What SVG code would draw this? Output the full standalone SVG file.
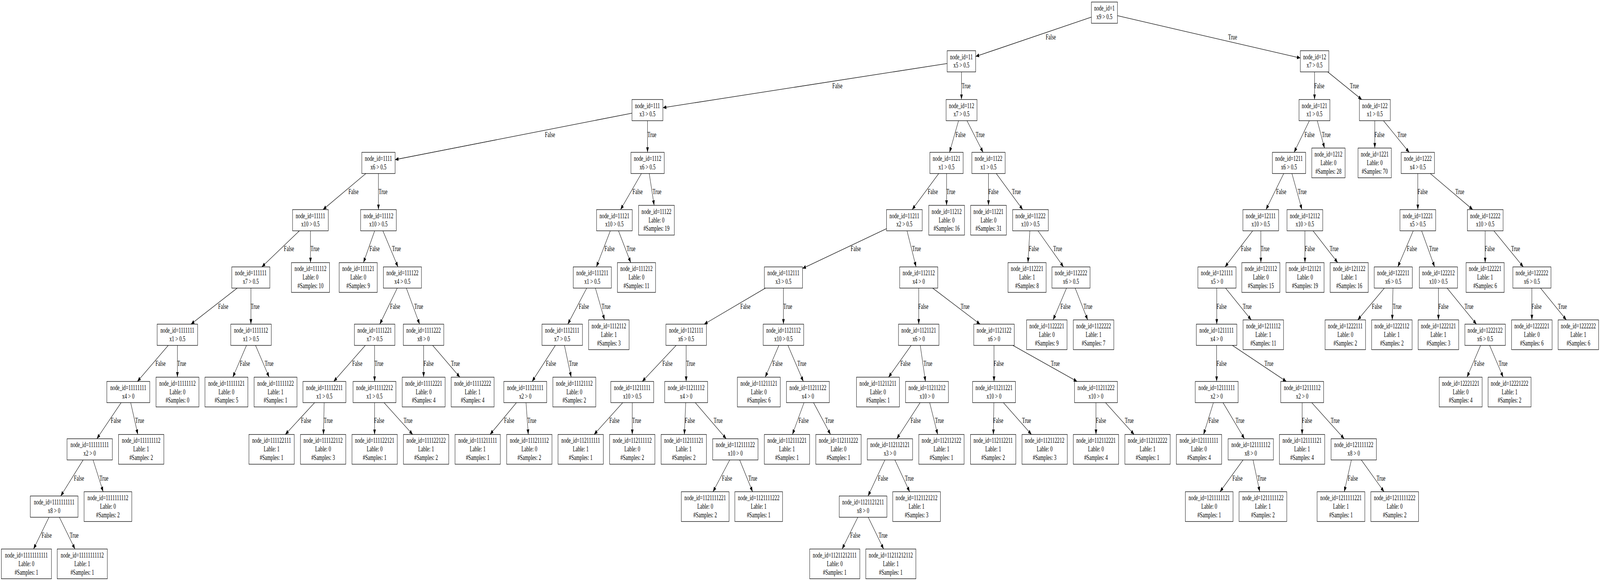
<svg xmlns="http://www.w3.org/2000/svg" width="6086" height="1488" viewBox="0 0 6086 1488" preserveAspectRatio="none" style="width:100vw;height:100vh">
<style>
text{font-family:"Liberation Serif","Times New Roman",serif;font-size:18.3px;text-anchor:middle;fill:#000}
.n rect{fill:#fff;stroke:#000;stroke-width:1.3}
#edges line{stroke:#000;stroke-width:1.3;marker-end:url(#ah)}
</style>
<defs>
<marker id="ah" markerUnits="userSpaceOnUse" viewBox="0 0 13 10" refX="13" refY="5" markerWidth="13" markerHeight="10" orient="auto">
<path d="M0,0 L13,5 L0,10 Z" fill="#000"/>
</marker>
</defs>
<rect width="6086" height="1488" fill="#fff"/>
<g id="edges">
<line x1="4151.2" y1="43.9" x2="3711.2" y2="144.6"/><text x="3996.8" y="100.7">False</text>
<line x1="4250.4" y1="40.2" x2="4946.3" y2="148.6"/><text x="4688.5" y="100.7">True</text>
<line x1="3602.85" y1="162.7" x2="2521.5" y2="275.85"/><text x="3185.4" y="226">False</text>
<line x1="3657.2" y1="184.15" x2="3657.2" y2="254.85"/><text x="3675" y="226">True</text>
<line x1="5000.2" y1="184.15" x2="5000.2" y2="254.85"/><text x="5018.4" y="226">False</text>
<line x1="5050.2" y1="184.15" x2="5179.8" y2="254.85"/><text x="5151.7" y="226">True</text>
<line x1="2403.95" y1="289.8" x2="1502.8" y2="408.9"/><text x="2092" y="350.8">False</text>
<line x1="2463" y1="309.15" x2="2463" y2="390.15"/><text x="2479.7" y="350.8">True</text>
<line x1="3646" y1="309.15" x2="3611.8" y2="390.15"/><text x="3653.6" y="350.8">False</text>
<line x1="3678.1" y1="309.15" x2="3739.4" y2="390.15"/><text x="3728.3" y="350.8">True</text>
<line x1="4980.5" y1="309.15" x2="4922.4" y2="390.15"/><text x="4981.4" y="350.8">False</text>
<line x1="5010.6" y1="309.15" x2="5038" y2="379.2"/><text x="5044.7" y="350.8">True</text>
<line x1="5229.3" y1="309.15" x2="5229.3" y2="379.2"/><text x="5247.1" y="350.8">False</text>
<line x1="5262.4" y1="309.15" x2="5360.2" y2="390.15"/><text x="5332.7" y="350.8">True</text>
<line x1="1391.6" y1="444.45" x2="1228.6" y2="536.85"/><text x="1344.5" y="496.7">False</text>
<line x1="1439.5" y1="444.45" x2="1439.5" y2="536.85"/><text x="1457" y="496.7">True</text>
<line x1="2439.8" y1="444.45" x2="2360.4" y2="536.85"/><text x="2425.4" y="496.7">False</text>
<line x1="2469.5" y1="444.45" x2="2488.2" y2="525.9"/><text x="2499" y="496.7">True</text>
<line x1="3570.6" y1="444.45" x2="3469.7" y2="536.85"/><text x="3548" y="496.7">False</text>
<line x1="3600.5" y1="444.45" x2="3600.5" y2="525.9"/><text x="3616.8" y="496.7">True</text>
<line x1="3760" y1="444.45" x2="3760" y2="525.9"/><text x="3778.7" y="496.7">False</text>
<line x1="3789.6" y1="444.45" x2="3890.1" y2="536.85"/><text x="3866" y="496.7">True</text>
<line x1="4883.1" y1="444.45" x2="4815.5" y2="536.85"/><text x="4873.4" y="496.7">False</text>
<line x1="4914.2" y1="444.45" x2="4952.2" y2="536.85"/><text x="4953.2" y="496.7">True</text>
<line x1="5393" y1="444.45" x2="5393" y2="536.85"/><text x="5411.6" y="496.7">False</text>
<line x1="5440.5" y1="444.45" x2="5602" y2="536.85"/><text x="5552.7" y="496.7">True</text>
<line x1="1138.7" y1="591.15" x2="996" y2="683.55"/><text x="1099.3" y="643.5">False</text>
<line x1="1181" y1="591.15" x2="1181" y2="672.6"/><text x="1198.1" y="643.5">True</text>
<line x1="1425.2" y1="591.15" x2="1382.5" y2="672.6"/><text x="1425" y="643.5">False</text>
<line x1="1456.4" y1="591.15" x2="1513.8" y2="683.55"/><text x="1508" y="643.5">True</text>
<line x1="2321.5" y1="591.15" x2="2268.5" y2="683.55"/><text x="2318.8" y="643.5">False</text>
<line x1="2352.5" y1="591.15" x2="2399.2" y2="672.6"/><text x="2400.2" y="643.5">True</text>
<line x1="3372.1" y1="585.65" x2="3052.45" y2="687.6"/><text x="3255.2" y="643.5">False</text>
<line x1="3450.1" y1="591.15" x2="3484.5" y2="683.55"/><text x="3485.9" y="643.5">True</text>
<line x1="3917.3" y1="591.15" x2="3910.1" y2="672.6"/><text x="3932.8" y="643.5">False</text>
<line x1="3948.2" y1="591.15" x2="4045.3" y2="683.55"/><text x="4023" y="643.5">True</text>
<line x1="4764.8" y1="591.15" x2="4659.8" y2="683.55"/><text x="4740" y="643.5">False</text>
<line x1="4796" y1="591.15" x2="4796" y2="672.6"/><text x="4812" y="643.5">True</text>
<line x1="4963.7" y1="591.15" x2="4963.7" y2="672.6"/><text x="4982.4" y="643.5">False</text>
<line x1="4994.6" y1="591.15" x2="5088.2" y2="672.6"/><text x="5074.8" y="643.5">True</text>
<line x1="5375.7" y1="591.15" x2="5316.9" y2="683.55"/><text x="5370.7" y="643.5">False</text>
<line x1="5407.5" y1="591.15" x2="5456.9" y2="683.55"/><text x="5453.4" y="643.5">True</text>
<line x1="5649.2" y1="591.15" x2="5649.2" y2="672.6"/><text x="5666.6" y="643.5">False</text>
<line x1="5682.3" y1="591.15" x2="5794.2" y2="683.55"/><text x="5764.8" y="643.5">True</text>
<line x1="902.3" y1="737.85" x2="726.4" y2="830.25"/><text x="849.2" y="790.8">False</text>
<line x1="954.4" y1="737.85" x2="954.4" y2="830.25"/><text x="970.3" y="790.8">True</text>
<line x1="1511.1" y1="737.85" x2="1444.6" y2="830.25"/><text x="1503" y="790.8">False</text>
<line x1="1545.6" y1="737.85" x2="1596.1" y2="830.25"/><text x="1592.7" y="790.8">True</text>
<line x1="2231.8" y1="737.85" x2="2159.7" y2="830.25"/><text x="2220.9" y="790.8">False</text>
<line x1="2264.7" y1="737.85" x2="2299.6" y2="819.3"/><text x="2305.2" y="790.8">True</text>
<line x1="2911.5" y1="737.85" x2="2678.5" y2="830.25"/><text x="2835.4" y="790.8">False</text>
<line x1="2980" y1="737.85" x2="2980" y2="830.25"/><text x="2996.4" y="790.8">True</text>
<line x1="3494.6" y1="737.85" x2="3494.6" y2="830.25"/><text x="3512" y="790.8">False</text>
<line x1="3547.6" y1="737.85" x2="3728" y2="830.25"/><text x="3671" y="790.8">True</text>
<line x1="4056.8" y1="737.85" x2="4005.7" y2="819.3"/><text x="4053" y="790.8">False</text>
<line x1="4089.7" y1="737.85" x2="4137.3" y2="819.3"/><text x="4138.3" y="790.8">True</text>
<line x1="4628.2" y1="737.85" x2="4628.2" y2="830.25"/><text x="4646.6" y="790.8">False</text>
<line x1="4661.6" y1="737.85" x2="4759.4" y2="819.3"/><text x="4744" y="790.8">True</text>
<line x1="5265.8" y1="737.85" x2="5164.6" y2="819.3"/><text x="5237.4" y="790.8">False</text>
<line x1="5298.6" y1="737.85" x2="5295.7" y2="819.3"/><text x="5314.3" y="790.8">True</text>
<line x1="5471.4" y1="737.85" x2="5471.4" y2="819.3"/><text x="5490.4" y="790.8">False</text>
<line x1="5504.3" y1="737.85" x2="5616.1" y2="830.25"/><text x="5587.7" y="790.8">True</text>
<line x1="5826.9" y1="737.85" x2="5826.9" y2="819.3"/><text x="5844.7" y="790.8">False</text>
<line x1="5859.7" y1="737.85" x2="5957.9" y2="819.3"/><text x="5943" y="790.8">True</text>
<line x1="640.1" y1="884.55" x2="522.6" y2="976.95"/><text x="610.7" y="936.7">False</text>
<line x1="674.85" y1="884.55" x2="674.85" y2="966"/><text x="691.2" y="936.7">True</text>
<line x1="937.5" y1="884.55" x2="885.6" y2="966"/><text x="931.6" y="936.7">False</text>
<line x1="972" y1="884.55" x2="1023.8" y2="966"/><text x="1023.6" y="936.7">True</text>
<line x1="1389.7" y1="884.55" x2="1269.3" y2="976.95"/><text x="1359" y="936.7">False</text>
<line x1="1424.75" y1="884.55" x2="1424.75" y2="976.95"/><text x="1441.5" y="936.7">True</text>
<line x1="1611.3" y1="884.55" x2="1611.3" y2="966"/><text x="1630.5" y="936.7">False</text>
<line x1="1645.6" y1="884.55" x2="1749.3" y2="966"/><text x="1732.3" y="936.7">True</text>
<line x1="2112.5" y1="884.55" x2="2024" y2="976.95"/><text x="2095.8" y="936.7">False</text>
<line x1="2147" y1="884.55" x2="2172.6" y2="966"/><text x="2181.1" y="936.7">True</text>
<line x1="2572.1" y1="884.55" x2="2442.9" y2="976.95"/><text x="2538.8" y="936.7">False</text>
<line x1="2610" y1="884.55" x2="2610" y2="976.95"/><text x="2627" y="936.7">True</text>
<line x1="2962.7" y1="884.55" x2="2910.7" y2="966"/><text x="2957.6" y="936.7">False</text>
<line x1="2997.2" y1="884.55" x2="3055.8" y2="976.95"/><text x="3050" y="936.7">True</text>
<line x1="3465.9" y1="884.55" x2="3379.8" y2="966"/><text x="3444.2" y="936.7">False</text>
<line x1="3500.4" y1="884.55" x2="3520.2" y2="976.95"/><text x="3529.5" y="936.7">True</text>
<line x1="3781" y1="884.55" x2="3781" y2="976.95"/><text x="3799" y="936.7">False</text>
<line x1="3852.8" y1="884.55" x2="4097" y2="976.95"/><text x="4014.2" y="936.7">True</text>
<line x1="4627.75" y1="884.55" x2="4627.75" y2="976.95"/><text x="4646.6" y="936.7">False</text>
<line x1="4687.8" y1="884.55" x2="4892.9" y2="976.95"/><text x="4826.7" y="936.7">True</text>
<line x1="5631.8" y1="884.55" x2="5580.2" y2="966"/><text x="5626.7" y="936.7">False</text>
<line x1="5666.2" y1="884.55" x2="5717.8" y2="966"/><text x="5717.2" y="936.7">True</text>
<line x1="460.8" y1="1031.25" x2="368.4" y2="1123.65"/><text x="441" y="1083.5">False</text>
<line x1="497.1" y1="1031.25" x2="524.3" y2="1112.7"/><text x="531.2" y="1083.5">True</text>
<line x1="1196.8" y1="1031.25" x2="1085.2" y2="1112.7"/><text x="1164.2" y="1083.5">False</text>
<line x1="1233.1" y1="1031.25" x2="1230.3" y2="1112.7"/><text x="1248.5" y="1083.5">True</text>
<line x1="1424.75" y1="1031.25" x2="1424.75" y2="1112.7"/><text x="1442.4" y="1083.5">False</text>
<line x1="1460.8" y1="1031.25" x2="1569.8" y2="1112.7"/><text x="1552" y="1083.5">True</text>
<line x1="1964.5" y1="1031.25" x2="1864" y2="1112.7"/><text x="1936.8" y="1083.5">False</text>
<line x1="2000.9" y1="1031.25" x2="2009.4" y2="1112.7"/><text x="2023.1" y="1083.5">True</text>
<line x1="2368.7" y1="1031.25" x2="2259.8" y2="1112.7"/><text x="2337.2" y="1083.5">False</text>
<line x1="2405" y1="1031.25" x2="2405" y2="1112.7"/><text x="2421.5" y="1083.5">True</text>
<line x1="2608.3" y1="1031.25" x2="2603.2" y2="1112.7"/><text x="2624.1" y="1083.5">False</text>
<line x1="2644.6" y1="1031.25" x2="2762.4" y2="1123.65"/><text x="2731.7" y="1083.5">True</text>
<line x1="3058.3" y1="1031.25" x2="3014.1" y2="1112.7"/><text x="3056.7" y="1083.5">False</text>
<line x1="3094.5" y1="1031.25" x2="3159.1" y2="1112.7"/><text x="3155" y="1083.5">True</text>
<line x1="3499.9" y1="1031.25" x2="3411.1" y2="1123.65"/><text x="3483" y="1083.5">False</text>
<line x1="3536.2" y1="1031.25" x2="3566.7" y2="1112.7"/><text x="3573.2" y="1083.5">True</text>
<line x1="3780.4" y1="1031.25" x2="3778.6" y2="1112.7"/><text x="3797" y="1083.5">False</text>
<line x1="3816.6" y1="1031.25" x2="3923.5" y2="1112.7"/><text x="3904.7" y="1083.5">True</text>
<line x1="4168.8" y1="1031.25" x2="4168.8" y2="1112.7"/><text x="4187.7" y="1083.5">False</text>
<line x1="4205.1" y1="1031.25" x2="4314" y2="1112.7"/><text x="4295.4" y="1083.5">True</text>
<line x1="4615.5" y1="1031.25" x2="4578.1" y2="1112.7"/><text x="4616.4" y="1083.5">False</text>
<line x1="4652" y1="1031.25" x2="4733.6" y2="1123.65"/><text x="4716.7" y="1083.5">True</text>
<line x1="4953" y1="1031.25" x2="4953" y2="1112.7"/><text x="4971.7" y="1083.5">False</text>
<line x1="4989.5" y1="1031.25" x2="5113" y2="1123.65"/><text x="5078.7" y="1083.5">True</text>
<line x1="316.2" y1="1177.95" x2="231" y2="1270.35"/><text x="300.5" y="1230.9">False</text>
<line x1="354" y1="1177.95" x2="392.5" y2="1259.4"/><text x="395.5" y="1230.9">True</text>
<line x1="2775.8" y1="1177.95" x2="2712.1" y2="1259.4"/><text x="2765.6" y="1230.9">False</text>
<line x1="2813.4" y1="1177.95" x2="2862.7" y2="1259.4"/><text x="2863.5" y="1230.9">True</text>
<line x1="3366.1" y1="1177.95" x2="3301.8" y2="1270.35"/><text x="3358.9" y="1230.9">False</text>
<line x1="3403.8" y1="1177.95" x2="3460.1" y2="1259.4"/><text x="3458.8" y="1230.9">True</text>
<line x1="4728.3" y1="1177.95" x2="4640.6" y2="1259.4"/><text x="4707" y="1230.9">False</text>
<line x1="4766.2" y1="1177.95" x2="4791.8" y2="1259.4"/><text x="4799.4" y="1230.9">True</text>
<line x1="5140.3" y1="1177.95" x2="5113.3" y2="1259.4"/><text x="5145.9" y="1230.9">False</text>
<line x1="5178.1" y1="1177.95" x2="5264.6" y2="1259.4"/><text x="5253" y="1230.9">True</text>
<line x1="186.3" y1="1324.65" x2="127.6" y2="1406.1"/><text x="177.4" y="1376.8">False</text>
<line x1="225.8" y1="1324.65" x2="285.2" y2="1406.1"/><text x="282.1" y="1376.8">True</text>
<line x1="3263" y1="1324.65" x2="3203.2" y2="1406.1"/><text x="3253.3" y="1376.8">False</text>
<line x1="3302.4" y1="1324.65" x2="3361.1" y2="1406.1"/><text x="3358.9" y="1376.8">True</text>
</g>
<g id="nodes">
<g id="n_1" class="n" transform="translate(4201,32.4)"><rect x="-49.6" y="-27.15" width="99.2" height="54.3"/><text y="-5.45">node_id=1</text><text y="16.45">x9 &gt; 0.5</text></g>
<g id="n_11" class="n" transform="translate(3657,157)"><rect x="-54.2" y="-27.15" width="108.4" height="54.3"/><text y="-5.45">node_id=11</text><text y="16.45">x5 &gt; 0.5</text></g>
<g id="n_12" class="n" transform="translate(5000.4,157)"><rect x="-54.2" y="-27.15" width="108.4" height="54.3"/><text y="-5.45">node_id=12</text><text y="16.45">x7 &gt; 0.5</text></g>
<g id="n_111" class="n" transform="translate(2462.7,282)"><rect x="-58.75" y="-27.15" width="117.5" height="54.3"/><text y="-5.45">node_id=111</text><text y="16.45">x3 &gt; 0.5</text></g>
<g id="n_112" class="n" transform="translate(3657.5,282)"><rect x="-58.75" y="-27.15" width="117.5" height="54.3"/><text y="-5.45">node_id=112</text><text y="16.45">x7 &gt; 0.5</text></g>
<g id="n_121" class="n" transform="translate(4999.9,282)"><rect x="-58.75" y="-27.15" width="117.5" height="54.3"/><text y="-5.45">node_id=121</text><text y="16.45">x1 &gt; 0.5</text></g>
<g id="n_122" class="n" transform="translate(5229.6,282)"><rect x="-58.75" y="-27.15" width="117.5" height="54.3"/><text y="-5.45">node_id=122</text><text y="16.45">x1 &gt; 0.5</text></g>
<g id="n_1111" class="n" transform="translate(1439.5,417.3)"><rect x="-63.3" y="-27.15" width="126.6" height="54.3"/><text y="-5.45">node_id=1111</text><text y="16.45">x6 &gt; 0.5</text></g>
<g id="n_1112" class="n" transform="translate(2463.2,417.3)"><rect x="-63.3" y="-27.15" width="126.6" height="54.3"/><text y="-5.45">node_id=1112</text><text y="16.45">x6 &gt; 0.5</text></g>
<g id="n_1121" class="n" transform="translate(3600.3,417.3)"><rect x="-63.3" y="-27.15" width="126.6" height="54.3"/><text y="-5.45">node_id=1121</text><text y="16.45">x1 &gt; 0.5</text></g>
<g id="n_1122" class="n" transform="translate(3760,417.3)"><rect x="-63.3" y="-27.15" width="126.6" height="54.3"/><text y="-5.45">node_id=1122</text><text y="16.45">x1 &gt; 0.5</text></g>
<g id="n_1211" class="n" transform="translate(4903,417.3)"><rect x="-63.3" y="-27.15" width="126.6" height="54.3"/><text y="-5.45">node_id=1211</text><text y="16.45">x6 &gt; 0.5</text></g>
<g id="n_1212" class="n" transform="translate(5053,417.3)"><rect x="-63.3" y="-38.1" width="126.6" height="76.2"/><text y="-16.4">node_id=1212</text><text y="5.5">Lable: 0</text><text y="27.4">#Samples: 28</text></g>
<g id="n_1221" class="n" transform="translate(5229,417.3)"><rect x="-63.3" y="-38.1" width="126.6" height="76.2"/><text y="-16.4">node_id=1221</text><text y="5.5">Lable: 0</text><text y="27.4">#Samples: 70</text></g>
<g id="n_1222" class="n" transform="translate(5393,417.3)"><rect x="-63.3" y="-27.15" width="126.6" height="54.3"/><text y="-5.45">node_id=1222</text><text y="16.45">x4 &gt; 0.5</text></g>
<g id="n_11111" class="n" transform="translate(1180.7,564)"><rect x="-67.9" y="-27.15" width="135.8" height="54.3"/><text y="-5.45">node_id=11111</text><text y="16.45">x10 &gt; 0.5</text></g>
<g id="n_11112" class="n" transform="translate(1439.5,564)"><rect x="-67.9" y="-27.15" width="135.8" height="54.3"/><text y="-5.45">node_id=11112</text><text y="16.45">x10 &gt; 0.5</text></g>
<g id="n_11121" class="n" transform="translate(2337,564)"><rect x="-67.9" y="-27.15" width="135.8" height="54.3"/><text y="-5.45">node_id=11121</text><text y="16.45">x10 &gt; 0.5</text></g>
<g id="n_11122" class="n" transform="translate(2497,564)"><rect x="-67.9" y="-38.1" width="135.8" height="76.2"/><text y="-16.4">node_id=11122</text><text y="5.5">Lable: 0</text><text y="27.4">#Samples: 19</text></g>
<g id="n_11211" class="n" transform="translate(3440,564)"><rect x="-67.9" y="-27.15" width="135.8" height="54.3"/><text y="-5.45">node_id=11211</text><text y="16.45">x2 &gt; 0.5</text></g>
<g id="n_11212" class="n" transform="translate(3600.8,564)"><rect x="-67.9" y="-38.1" width="135.8" height="76.2"/><text y="-16.4">node_id=11212</text><text y="5.5">Lable: 0</text><text y="27.4">#Samples: 16</text></g>
<g id="n_11221" class="n" transform="translate(3760,564)"><rect x="-67.9" y="-38.1" width="135.8" height="76.2"/><text y="-16.4">node_id=11221</text><text y="5.5">Lable: 0</text><text y="27.4">#Samples: 31</text></g>
<g id="n_11222" class="n" transform="translate(3919.7,564)"><rect x="-67.9" y="-27.15" width="135.8" height="54.3"/><text y="-5.45">node_id=11222</text><text y="16.45">x10 &gt; 0.5</text></g>
<g id="n_12111" class="n" transform="translate(4795.6,564)"><rect x="-67.9" y="-27.15" width="135.8" height="54.3"/><text y="-5.45">node_id=12111</text><text y="16.45">x10 &gt; 0.5</text></g>
<g id="n_12112" class="n" transform="translate(4963.4,564)"><rect x="-67.9" y="-27.15" width="135.8" height="54.3"/><text y="-5.45">node_id=12112</text><text y="16.45">x10 &gt; 0.5</text></g>
<g id="n_12221" class="n" transform="translate(5393,564)"><rect x="-67.9" y="-27.15" width="135.8" height="54.3"/><text y="-5.45">node_id=12221</text><text y="16.45">x5 &gt; 0.5</text></g>
<g id="n_12222" class="n" transform="translate(5649.5,564)"><rect x="-67.9" y="-27.15" width="135.8" height="54.3"/><text y="-5.45">node_id=12222</text><text y="16.45">x10 &gt; 0.5</text></g>
<g id="n_111111" class="n" transform="translate(954,710.7)"><rect x="-72.45" y="-27.15" width="144.9" height="54.3"/><text y="-5.45">node_id=111111</text><text y="16.45">x7 &gt; 0.5</text></g>
<g id="n_111112" class="n" transform="translate(1181,710.7)"><rect x="-72.45" y="-38.1" width="144.9" height="76.2"/><text y="-16.4">node_id=111112</text><text y="5.5">Lable: 0</text><text y="27.4">#Samples: 10</text></g>
<g id="n_111121" class="n" transform="translate(1362.5,710.7)"><rect x="-72.45" y="-38.1" width="144.9" height="76.2"/><text y="-16.4">node_id=111121</text><text y="5.5">Lable: 0</text><text y="27.4">#Samples: 9</text></g>
<g id="n_111122" class="n" transform="translate(1530.7,710.7)"><rect x="-72.45" y="-27.15" width="144.9" height="54.3"/><text y="-5.45">node_id=111122</text><text y="16.45">x4 &gt; 0.5</text></g>
<g id="n_111211" class="n" transform="translate(2253,710.7)"><rect x="-72.45" y="-27.15" width="144.9" height="54.3"/><text y="-5.45">node_id=111211</text><text y="16.45">x1 &gt; 0.5</text></g>
<g id="n_111212" class="n" transform="translate(2421,710.7)"><rect x="-72.45" y="-38.1" width="144.9" height="76.2"/><text y="-16.4">node_id=111212</text><text y="5.5">Lable: 0</text><text y="27.4">#Samples: 11</text></g>
<g id="n_112111" class="n" transform="translate(2980,710.7)"><rect x="-72.45" y="-27.15" width="144.9" height="54.3"/><text y="-5.45">node_id=112111</text><text y="16.45">x3 &gt; 0.5</text></g>
<g id="n_112112" class="n" transform="translate(3494.6,710.7)"><rect x="-72.45" y="-27.15" width="144.9" height="54.3"/><text y="-5.45">node_id=112112</text><text y="16.45">x4 &gt; 0</text></g>
<g id="n_112221" class="n" transform="translate(3906.7,710.7)"><rect x="-72.45" y="-38.1" width="144.9" height="76.2"/><text y="-16.4">node_id=112221</text><text y="5.5">Lable: 1</text><text y="27.4">#Samples: 8</text></g>
<g id="n_112222" class="n" transform="translate(4073.8,710.7)"><rect x="-72.45" y="-27.15" width="144.9" height="54.3"/><text y="-5.45">node_id=112222</text><text y="16.45">x6 &gt; 0.5</text></g>
<g id="n_121111" class="n" transform="translate(4629,710.7)"><rect x="-72.45" y="-27.15" width="144.9" height="54.3"/><text y="-5.45">node_id=121111</text><text y="16.45">x5 &gt; 0</text></g>
<g id="n_121112" class="n" transform="translate(4796,710.7)"><rect x="-72.45" y="-38.1" width="144.9" height="76.2"/><text y="-16.4">node_id=121112</text><text y="5.5">Lable: 0</text><text y="27.4">#Samples: 15</text></g>
<g id="n_121121" class="n" transform="translate(4964,710.7)"><rect x="-72.45" y="-38.1" width="144.9" height="76.2"/><text y="-16.4">node_id=121121</text><text y="5.5">Lable: 0</text><text y="27.4">#Samples: 19</text></g>
<g id="n_121122" class="n" transform="translate(5132,710.7)"><rect x="-72.45" y="-38.1" width="144.9" height="76.2"/><text y="-16.4">node_id=121122</text><text y="5.5">Lable: 1</text><text y="27.4">#Samples: 16</text></g>
<g id="n_122211" class="n" transform="translate(5299.6,710.7)"><rect x="-72.45" y="-27.15" width="144.9" height="54.3"/><text y="-5.45">node_id=122211</text><text y="16.45">x6 &gt; 0.5</text></g>
<g id="n_122212" class="n" transform="translate(5471.4,710.7)"><rect x="-72.45" y="-27.15" width="144.9" height="54.3"/><text y="-5.45">node_id=122212</text><text y="16.45">x10 &gt; 0.5</text></g>
<g id="n_122221" class="n" transform="translate(5649,710.7)"><rect x="-72.45" y="-38.1" width="144.9" height="76.2"/><text y="-16.4">node_id=122221</text><text y="5.5">Lable: 1</text><text y="27.4">#Samples: 6</text></g>
<g id="n_122222" class="n" transform="translate(5827,710.7)"><rect x="-72.45" y="-27.15" width="144.9" height="54.3"/><text y="-5.45">node_id=122222</text><text y="16.45">x6 &gt; 0.5</text></g>
<g id="n_1111111" class="n" transform="translate(674.7,857.4)"><rect x="-77" y="-27.15" width="154" height="54.3"/><text y="-5.45">node_id=1111111</text><text y="16.45">x1 &gt; 0.5</text></g>
<g id="n_1111112" class="n" transform="translate(954.8,857.4)"><rect x="-77" y="-27.15" width="154" height="54.3"/><text y="-5.45">node_id=1111112</text><text y="16.45">x1 &gt; 0.5</text></g>
<g id="n_1111221" class="n" transform="translate(1425,857.4)"><rect x="-77" y="-27.15" width="154" height="54.3"/><text y="-5.45">node_id=1111221</text><text y="16.45">x7 &gt; 0.5</text></g>
<g id="n_1111222" class="n" transform="translate(1611,857.4)"><rect x="-77" y="-27.15" width="154" height="54.3"/><text y="-5.45">node_id=1111222</text><text y="16.45">x8 &gt; 0</text></g>
<g id="n_1112111" class="n" transform="translate(2138.5,857.4)"><rect x="-77" y="-27.15" width="154" height="54.3"/><text y="-5.45">node_id=1112111</text><text y="16.45">x7 &gt; 0.5</text></g>
<g id="n_1112112" class="n" transform="translate(2316,857.4)"><rect x="-77" y="-38.1" width="154" height="76.2"/><text y="-16.4">node_id=1112112</text><text y="5.5">Lable: 1</text><text y="27.4">#Samples: 3</text></g>
<g id="n_1121111" class="n" transform="translate(2610,857.4)"><rect x="-77" y="-27.15" width="154" height="54.3"/><text y="-5.45">node_id=1121111</text><text y="16.45">x6 &gt; 0.5</text></g>
<g id="n_1121112" class="n" transform="translate(2980,857.4)"><rect x="-77" y="-27.15" width="154" height="54.3"/><text y="-5.45">node_id=1121112</text><text y="16.45">x10 &gt; 0.5</text></g>
<g id="n_1121121" class="n" transform="translate(3494.6,857.4)"><rect x="-77" y="-27.15" width="154" height="54.3"/><text y="-5.45">node_id=1121121</text><text y="16.45">x6 &gt; 0</text></g>
<g id="n_1121122" class="n" transform="translate(3781,857.4)"><rect x="-77" y="-27.15" width="154" height="54.3"/><text y="-5.45">node_id=1121122</text><text y="16.45">x6 &gt; 0</text></g>
<g id="n_1122221" class="n" transform="translate(3981.8,857.4)"><rect x="-77" y="-38.1" width="154" height="76.2"/><text y="-16.4">node_id=1122221</text><text y="5.5">Lable: 0</text><text y="27.4">#Samples: 9</text></g>
<g id="n_1122222" class="n" transform="translate(4159.6,857.4)"><rect x="-77" y="-38.1" width="154" height="76.2"/><text y="-16.4">node_id=1122222</text><text y="5.5">Lable: 1</text><text y="27.4">#Samples: 7</text></g>
<g id="n_1211111" class="n" transform="translate(4627.5,857.4)"><rect x="-77" y="-27.15" width="154" height="54.3"/><text y="-5.45">node_id=1211111</text><text y="16.45">x4 &gt; 0</text></g>
<g id="n_1211112" class="n" transform="translate(4805.2,857.4)"><rect x="-77" y="-38.1" width="154" height="76.2"/><text y="-16.4">node_id=1211112</text><text y="5.5">Lable: 1</text><text y="27.4">#Samples: 11</text></g>
<g id="n_1222111" class="n" transform="translate(5117.2,857.4)"><rect x="-77" y="-38.1" width="154" height="76.2"/><text y="-16.4">node_id=1222111</text><text y="5.5">Lable: 0</text><text y="27.4">#Samples: 2</text></g>
<g id="n_1222112" class="n" transform="translate(5294.3,857.4)"><rect x="-77" y="-38.1" width="154" height="76.2"/><text y="-16.4">node_id=1222112</text><text y="5.5">Lable: 1</text><text y="27.4">#Samples: 2</text></g>
<g id="n_1222121" class="n" transform="translate(5471.4,857.4)"><rect x="-77" y="-38.1" width="154" height="76.2"/><text y="-16.4">node_id=1222121</text><text y="5.5">Lable: 1</text><text y="27.4">#Samples: 3</text></g>
<g id="n_1222122" class="n" transform="translate(5649,857.4)"><rect x="-77" y="-27.15" width="154" height="54.3"/><text y="-5.45">node_id=1222122</text><text y="16.45">x6 &gt; 0.5</text></g>
<g id="n_1222221" class="n" transform="translate(5826.7,857.4)"><rect x="-77" y="-38.1" width="154" height="76.2"/><text y="-16.4">node_id=1222221</text><text y="5.5">Lable: 0</text><text y="27.4">#Samples: 6</text></g>
<g id="n_1222222" class="n" transform="translate(6003.8,857.4)"><rect x="-77" y="-38.1" width="154" height="76.2"/><text y="-16.4">node_id=1222222</text><text y="5.5">Lable: 1</text><text y="27.4">#Samples: 6</text></g>
<g id="n_11111111" class="n" transform="translate(488,1004.1)"><rect x="-81.6" y="-27.15" width="163.2" height="54.3"/><text y="-5.45">node_id=11111111</text><text y="16.45">x4 &gt; 0</text></g>
<g id="n_11111112" class="n" transform="translate(675,1004.1)"><rect x="-81.6" y="-38.1" width="163.2" height="76.2"/><text y="-16.4">node_id=11111112</text><text y="5.5">Lable: 0</text><text y="27.4">#Samples: 0</text></g>
<g id="n_11111121" class="n" transform="translate(861.3,1004.1)"><rect x="-81.6" y="-38.1" width="163.2" height="76.2"/><text y="-16.4">node_id=11111121</text><text y="5.5">Lable: 0</text><text y="27.4">#Samples: 5</text></g>
<g id="n_11111122" class="n" transform="translate(1048,1004.1)"><rect x="-81.6" y="-38.1" width="163.2" height="76.2"/><text y="-16.4">node_id=11111122</text><text y="5.5">Lable: 1</text><text y="27.4">#Samples: 1</text></g>
<g id="n_11112211" class="n" transform="translate(1234,1004.1)"><rect x="-81.6" y="-27.15" width="163.2" height="54.3"/><text y="-5.45">node_id=11112211</text><text y="16.45">x1 &gt; 0.5</text></g>
<g id="n_11112212" class="n" transform="translate(1424.5,1004.1)"><rect x="-81.6" y="-27.15" width="163.2" height="54.3"/><text y="-5.45">node_id=11112212</text><text y="16.45">x1 &gt; 0.5</text></g>
<g id="n_11112221" class="n" transform="translate(1611.6,1004.1)"><rect x="-81.6" y="-38.1" width="163.2" height="76.2"/><text y="-16.4">node_id=11112221</text><text y="5.5">Lable: 0</text><text y="27.4">#Samples: 4</text></g>
<g id="n_11112222" class="n" transform="translate(1797.8,1004.1)"><rect x="-81.6" y="-38.1" width="163.2" height="76.2"/><text y="-16.4">node_id=11112222</text><text y="5.5">Lable: 1</text><text y="27.4">#Samples: 4</text></g>
<g id="n_11121111" class="n" transform="translate(1998,1004.1)"><rect x="-81.6" y="-27.15" width="163.2" height="54.3"/><text y="-5.45">node_id=11121111</text><text y="16.45">x2 &gt; 0</text></g>
<g id="n_11121112" class="n" transform="translate(2184.5,1004.1)"><rect x="-81.6" y="-38.1" width="163.2" height="76.2"/><text y="-16.4">node_id=11121112</text><text y="5.5">Lable: 0</text><text y="27.4">#Samples: 2</text></g>
<g id="n_11211111" class="n" transform="translate(2405,1004.1)"><rect x="-81.6" y="-27.15" width="163.2" height="54.3"/><text y="-5.45">node_id=11211111</text><text y="16.45">x10 &gt; 0.5</text></g>
<g id="n_11211112" class="n" transform="translate(2610,1004.1)"><rect x="-81.6" y="-27.15" width="163.2" height="54.3"/><text y="-5.45">node_id=11211112</text><text y="16.45">x4 &gt; 0</text></g>
<g id="n_11211121" class="n" transform="translate(2886.4,1004.1)"><rect x="-81.6" y="-38.1" width="163.2" height="76.2"/><text y="-16.4">node_id=11211121</text><text y="5.5">Lable: 0</text><text y="27.4">#Samples: 6</text></g>
<g id="n_11211122" class="n" transform="translate(3073,1004.1)"><rect x="-81.6" y="-27.15" width="163.2" height="54.3"/><text y="-5.45">node_id=11211122</text><text y="16.45">x4 &gt; 0</text></g>
<g id="n_11211211" class="n" transform="translate(3339.5,1004.1)"><rect x="-81.6" y="-38.1" width="163.2" height="76.2"/><text y="-16.4">node_id=11211211</text><text y="5.5">Lable: 0</text><text y="27.4">#Samples: 1</text></g>
<g id="n_11211212" class="n" transform="translate(3526,1004.1)"><rect x="-81.6" y="-27.15" width="163.2" height="54.3"/><text y="-5.45">node_id=11211212</text><text y="16.45">x10 &gt; 0</text></g>
<g id="n_11211221" class="n" transform="translate(3781,1004.1)"><rect x="-81.6" y="-27.15" width="163.2" height="54.3"/><text y="-5.45">node_id=11211221</text><text y="16.45">x10 &gt; 0</text></g>
<g id="n_11211222" class="n" transform="translate(4168.8,1004.1)"><rect x="-81.6" y="-27.15" width="163.2" height="54.3"/><text y="-5.45">node_id=11211222</text><text y="16.45">x10 &gt; 0</text></g>
<g id="n_12111111" class="n" transform="translate(4628,1004.1)"><rect x="-81.6" y="-27.15" width="163.2" height="54.3"/><text y="-5.45">node_id=12111111</text><text y="16.45">x2 &gt; 0</text></g>
<g id="n_12111112" class="n" transform="translate(4953.2,1004.1)"><rect x="-81.6" y="-27.15" width="163.2" height="54.3"/><text y="-5.45">node_id=12111112</text><text y="16.45">x2 &gt; 0</text></g>
<g id="n_12221221" class="n" transform="translate(5556,1004.1)"><rect x="-81.6" y="-38.1" width="163.2" height="76.2"/><text y="-16.4">node_id=12221221</text><text y="5.5">Lable: 0</text><text y="27.4">#Samples: 4</text></g>
<g id="n_12221222" class="n" transform="translate(5742,1004.1)"><rect x="-81.6" y="-38.1" width="163.2" height="76.2"/><text y="-16.4">node_id=12221222</text><text y="5.5">Lable: 1</text><text y="27.4">#Samples: 2</text></g>
<g id="n_111111111" class="n" transform="translate(341.2,1150.8)"><rect x="-86.15" y="-27.15" width="172.3" height="54.3"/><text y="-5.45">node_id=111111111</text><text y="16.45">x2 &gt; 0</text></g>
<g id="n_111111112" class="n" transform="translate(537,1150.8)"><rect x="-86.15" y="-38.1" width="172.3" height="76.2"/><text y="-16.4">node_id=111111112</text><text y="5.5">Lable: 1</text><text y="27.4">#Samples: 2</text></g>
<g id="n_111122111" class="n" transform="translate(1033,1150.8)"><rect x="-86.15" y="-38.1" width="172.3" height="76.2"/><text y="-16.4">node_id=111122111</text><text y="5.5">Lable: 1</text><text y="27.4">#Samples: 1</text></g>
<g id="n_111122112" class="n" transform="translate(1229,1150.8)"><rect x="-86.15" y="-38.1" width="172.3" height="76.2"/><text y="-16.4">node_id=111122112</text><text y="5.5">Lable: 0</text><text y="27.4">#Samples: 3</text></g>
<g id="n_111122121" class="n" transform="translate(1425,1150.8)"><rect x="-86.15" y="-38.1" width="172.3" height="76.2"/><text y="-16.4">node_id=111122121</text><text y="5.5">Lable: 0</text><text y="27.4">#Samples: 1</text></g>
<g id="n_111122122" class="n" transform="translate(1620.8,1150.8)"><rect x="-86.15" y="-38.1" width="172.3" height="76.2"/><text y="-16.4">node_id=111122122</text><text y="5.5">Lable: 1</text><text y="27.4">#Samples: 2</text></g>
<g id="n_111211111" class="n" transform="translate(1817,1150.8)"><rect x="-86.15" y="-38.1" width="172.3" height="76.2"/><text y="-16.4">node_id=111211111</text><text y="5.5">Lable: 1</text><text y="27.4">#Samples: 1</text></g>
<g id="n_111211112" class="n" transform="translate(2013.4,1150.8)"><rect x="-86.15" y="-38.1" width="172.3" height="76.2"/><text y="-16.4">node_id=111211112</text><text y="5.5">Lable: 0</text><text y="27.4">#Samples: 2</text></g>
<g id="n_112111111" class="n" transform="translate(2208.8,1150.8)"><rect x="-86.15" y="-38.1" width="172.3" height="76.2"/><text y="-16.4">node_id=112111111</text><text y="5.5">Lable: 1</text><text y="27.4">#Samples: 1</text></g>
<g id="n_112111112" class="n" transform="translate(2405,1150.8)"><rect x="-86.15" y="-38.1" width="172.3" height="76.2"/><text y="-16.4">node_id=112111112</text><text y="5.5">Lable: 0</text><text y="27.4">#Samples: 2</text></g>
<g id="n_112111121" class="n" transform="translate(2600.8,1150.8)"><rect x="-86.15" y="-38.1" width="172.3" height="76.2"/><text y="-16.4">node_id=112111121</text><text y="5.5">Lable: 1</text><text y="27.4">#Samples: 2</text></g>
<g id="n_112111122" class="n" transform="translate(2797,1150.8)"><rect x="-86.15" y="-27.15" width="172.3" height="54.3"/><text y="-5.45">node_id=112111122</text><text y="16.45">x10 &gt; 0</text></g>
<g id="n_112111221" class="n" transform="translate(2993.5,1150.8)"><rect x="-86.15" y="-38.1" width="172.3" height="76.2"/><text y="-16.4">node_id=112111221</text><text y="5.5">Lable: 1</text><text y="27.4">#Samples: 1</text></g>
<g id="n_112111222" class="n" transform="translate(3189.3,1150.8)"><rect x="-86.15" y="-38.1" width="172.3" height="76.2"/><text y="-16.4">node_id=112111222</text><text y="5.5">Lable: 0</text><text y="27.4">#Samples: 1</text></g>
<g id="n_112112121" class="n" transform="translate(3385,1150.8)"><rect x="-86.15" y="-27.15" width="172.3" height="54.3"/><text y="-5.45">node_id=112112121</text><text y="16.45">x3 &gt; 0</text></g>
<g id="n_112112122" class="n" transform="translate(3581,1150.8)"><rect x="-86.15" y="-38.1" width="172.3" height="76.2"/><text y="-16.4">node_id=112112122</text><text y="5.5">Lable: 1</text><text y="27.4">#Samples: 1</text></g>
<g id="n_112112211" class="n" transform="translate(3777.7,1150.8)"><rect x="-86.15" y="-38.1" width="172.3" height="76.2"/><text y="-16.4">node_id=112112211</text><text y="5.5">Lable: 1</text><text y="27.4">#Samples: 2</text></g>
<g id="n_112112212" class="n" transform="translate(3973.5,1150.8)"><rect x="-86.15" y="-38.1" width="172.3" height="76.2"/><text y="-16.4">node_id=112112212</text><text y="5.5">Lable: 0</text><text y="27.4">#Samples: 3</text></g>
<g id="n_112112221" class="n" transform="translate(4168.8,1150.8)"><rect x="-86.15" y="-38.1" width="172.3" height="76.2"/><text y="-16.4">node_id=112112221</text><text y="5.5">Lable: 0</text><text y="27.4">#Samples: 4</text></g>
<g id="n_112112222" class="n" transform="translate(4365,1150.8)"><rect x="-86.15" y="-38.1" width="172.3" height="76.2"/><text y="-16.4">node_id=112112222</text><text y="5.5">Lable: 1</text><text y="27.4">#Samples: 1</text></g>
<g id="n_121111111" class="n" transform="translate(4560.6,1150.8)"><rect x="-86.15" y="-38.1" width="172.3" height="76.2"/><text y="-16.4">node_id=121111111</text><text y="5.5">Lable: 0</text><text y="27.4">#Samples: 4</text></g>
<g id="n_121111112" class="n" transform="translate(4757.6,1150.8)"><rect x="-86.15" y="-27.15" width="172.3" height="54.3"/><text y="-5.45">node_id=121111112</text><text y="16.45">x8 &gt; 0</text></g>
<g id="n_121111121" class="n" transform="translate(4952.7,1150.8)"><rect x="-86.15" y="-38.1" width="172.3" height="76.2"/><text y="-16.4">node_id=121111121</text><text y="5.5">Lable: 1</text><text y="27.4">#Samples: 4</text></g>
<g id="n_121111122" class="n" transform="translate(5149.3,1150.8)"><rect x="-86.15" y="-27.15" width="172.3" height="54.3"/><text y="-5.45">node_id=121111122</text><text y="16.45">x8 &gt; 0</text></g>
<g id="n_1111111111" class="n" transform="translate(206,1297.5)"><rect x="-90.75" y="-27.15" width="181.5" height="54.3"/><text y="-5.45">node_id=1111111111</text><text y="16.45">x8 &gt; 0</text></g>
<g id="n_1111111112" class="n" transform="translate(410.5,1297.5)"><rect x="-90.75" y="-38.1" width="181.5" height="76.2"/><text y="-16.4">node_id=1111111112</text><text y="5.5">Lable: 0</text><text y="27.4">#Samples: 2</text></g>
<g id="n_1121111221" class="n" transform="translate(2682.3,1297.5)"><rect x="-90.75" y="-38.1" width="181.5" height="76.2"/><text y="-16.4">node_id=1121111221</text><text y="5.5">Lable: 0</text><text y="27.4">#Samples: 2</text></g>
<g id="n_1121111222" class="n" transform="translate(2885.8,1297.5)"><rect x="-90.75" y="-38.1" width="181.5" height="76.2"/><text y="-16.4">node_id=1121111222</text><text y="5.5">Lable: 1</text><text y="27.4">#Samples: 1</text></g>
<g id="n_1121121211" class="n" transform="translate(3282.9,1297.5)"><rect x="-90.75" y="-27.15" width="181.5" height="54.3"/><text y="-5.45">node_id=1121121211</text><text y="16.45">x8 &gt; 0</text></g>
<g id="n_1121121212" class="n" transform="translate(3486.4,1297.5)"><rect x="-90.75" y="-38.1" width="181.5" height="76.2"/><text y="-16.4">node_id=1121121212</text><text y="5.5">Lable: 1</text><text y="27.4">#Samples: 3</text></g>
<g id="n_1211111121" class="n" transform="translate(4599.5,1297.5)"><rect x="-90.75" y="-38.1" width="181.5" height="76.2"/><text y="-16.4">node_id=1211111121</text><text y="5.5">Lable: 0</text><text y="27.4">#Samples: 1</text></g>
<g id="n_1211111122" class="n" transform="translate(4803.8,1297.5)"><rect x="-90.75" y="-38.1" width="181.5" height="76.2"/><text y="-16.4">node_id=1211111122</text><text y="5.5">Lable: 1</text><text y="27.4">#Samples: 2</text></g>
<g id="n_1211111221" class="n" transform="translate(5100.7,1297.5)"><rect x="-90.75" y="-38.1" width="181.5" height="76.2"/><text y="-16.4">node_id=1211111221</text><text y="5.5">Lable: 1</text><text y="27.4">#Samples: 1</text></g>
<g id="n_1211111222" class="n" transform="translate(5305,1297.5)"><rect x="-90.75" y="-38.1" width="181.5" height="76.2"/><text y="-16.4">node_id=1211111222</text><text y="5.5">Lable: 0</text><text y="27.4">#Samples: 2</text></g>
<g id="n_11111111111" class="n" transform="translate(100.5,1444.2)"><rect x="-95.3" y="-38.1" width="190.6" height="76.2"/><text y="-16.4">node_id=11111111111</text><text y="5.5">Lable: 0</text><text y="27.4">#Samples: 1</text></g>
<g id="n_11111111112" class="n" transform="translate(313,1444.2)"><rect x="-95.3" y="-38.1" width="190.6" height="76.2"/><text y="-16.4">node_id=11111111112</text><text y="5.5">Lable: 1</text><text y="27.4">#Samples: 1</text></g>
<g id="n_11211212111" class="n" transform="translate(3175.2,1444.2)"><rect x="-95.3" y="-38.1" width="190.6" height="76.2"/><text y="-16.4">node_id=11211212111</text><text y="5.5">Lable: 0</text><text y="27.4">#Samples: 1</text></g>
<g id="n_11211212112" class="n" transform="translate(3388.5,1444.2)"><rect x="-95.3" y="-38.1" width="190.6" height="76.2"/><text y="-16.4">node_id=11211212112</text><text y="5.5">Lable: 1</text><text y="27.4">#Samples: 1</text></g>
</g>
</svg>
